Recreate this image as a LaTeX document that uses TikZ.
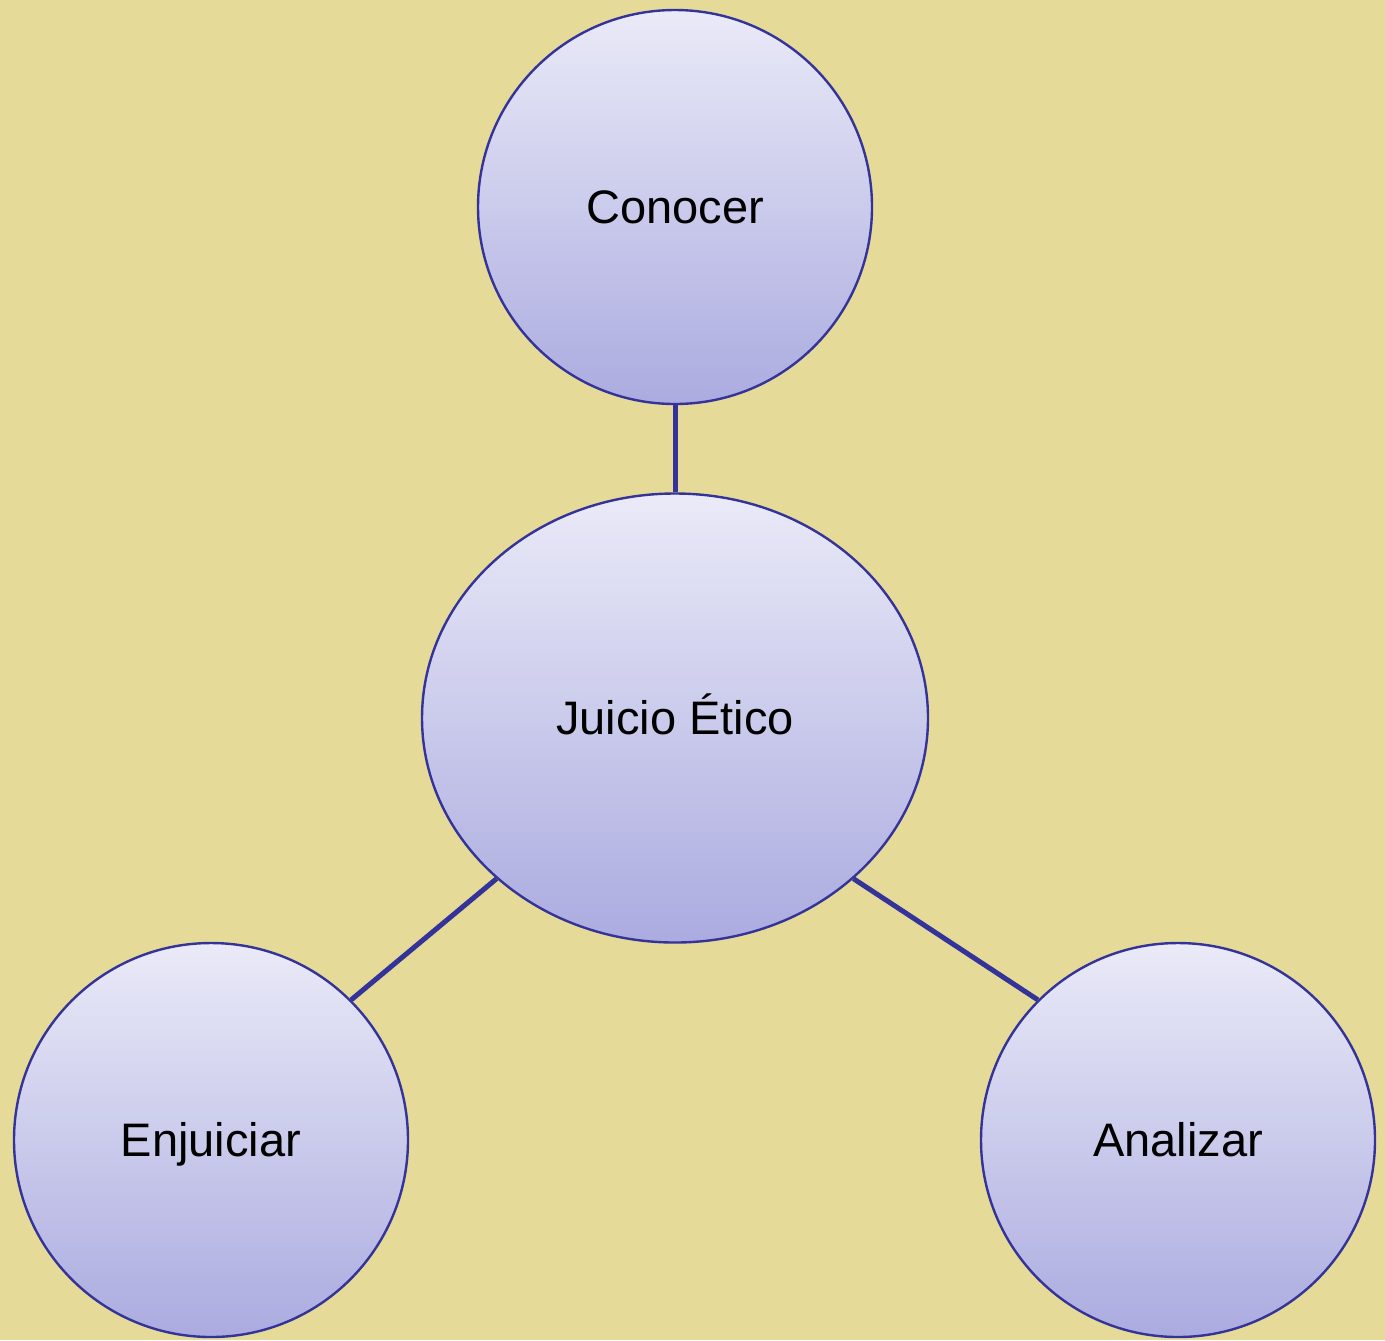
\documentclass[tikz,border=0pt]{standalone}
\usepackage{fontspec}
\setmainfont{Liberation Sans}
\usetikzlibrary{shapes.geometric}
\definecolor{fondo}{HTML}{E5DA98}
\definecolor{borde}{HTML}{333399}
\definecolor{claro}{HTML}{EAEAF8}
\definecolor{oscuro}{HTML}{ABABE0}
\begin{document}
\begin{tikzpicture}[x=0.5pt,y=-0.5pt]
  \tikzset{idea/.style={circle, draw=borde, line width=1.2pt, top color=claro, bottom color=oscuro,
      minimum size=197pt, inner sep=0pt, text height=16.9pt, text depth=0pt,
      font=\fontsize{23.5pt}{28pt}\selectfont},
    centro/.style={idea, ellipse, minimum width=253pt, minimum height=224.5pt},
    enlace/.style={draw=borde, line width=2.5pt}}
  \fill[fondo] (0,0) rectangle (1385,1340);
  \useasboundingbox (0,0) rectangle (1385,1340);
  \node[idea] (conocer) at (675,207) {Conocer};
  \node[centro] (juicio) at (675,718) {Juicio Ético};
  \node[idea] (enjuiciar) at (211,1140) {Enjuiciar};
  \node[idea] (analizar) at (1178,1140) {Analizar};
  \draw[enlace] (conocer.south) -- (juicio.north);
  \draw[enlace] (juicio.-138) -- (enjuiciar.45);
  \draw[enlace] (juicio.-42) -- (analizar.135);
\end{tikzpicture}
\end{document}
